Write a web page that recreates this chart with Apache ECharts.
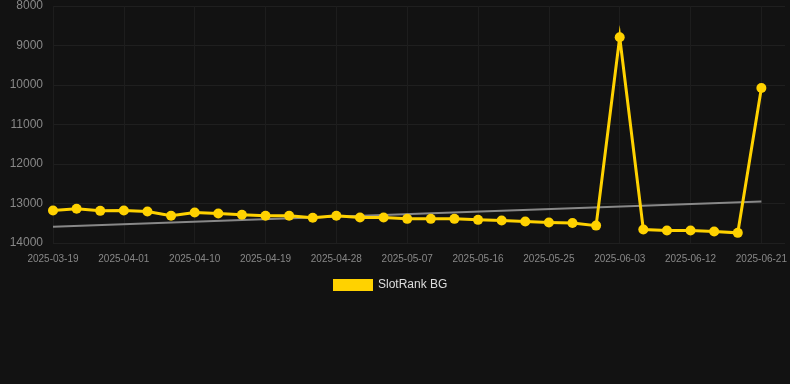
<!DOCTYPE html>
<html>
<head>
<meta charset="utf-8">
<script src="https://cdn.jsdelivr.net/npm/echarts@6/dist/echarts.min.js"></script>
<style>
  html, body { margin: 0; padding: 0; background: #121212; }
  #chart { width: 790px; height: 384px; }
</style>
</head>
<body>
<div id="chart"></div>
<script>
// dates (one point every few days)
var dates = [
  '2025-03-19', '2025-03-23', '2025-03-27', '2025-04-01', '2025-04-04', '2025-04-07',
  '2025-04-10', '2025-04-13', '2025-04-16', '2025-04-19', '2025-04-22', '2025-04-25',
  '2025-04-28', '2025-05-01', '2025-05-04', '2025-05-07', '2025-05-10', '2025-05-13',
  '2025-05-16', '2025-05-19', '2025-05-22', '2025-05-25', '2025-05-28', '2025-05-31',
  '2025-06-03', '2025-06-06', '2025-06-09', '2025-06-12', '2025-06-15', '2025-06-18',
  '2025-06-21'
]

// rank values
var rankValues = [
  13178, 13135, 13186, 13178, 13203, 13312,
  13228, 13254, 13287, 13312, 13312, 13363,
  13312, 13355, 13355, 13389, 13389, 13389,
  13414, 13431, 13456, 13480, 13495, 13560,
  8790, 13658, 13684, 13684, 13709, 13743,
  10074
]

// trend line end points [index, value]
var trendPoints = [[0, 13590], [30, 12950]]

var myChart = echarts.init(document.getElementById('chart'))

var option = {
  backgroundColor: '#121212',
  animation: false,
  grid: {
    left: 53,
    right: 5,
    top: 6,
    bottom: 141,
  },
  legend: {
    show: true,
    top: 274,
    left: 328,
    itemWidth: 40,
    itemHeight: 12,
    textStyle: {
      color: '#dddddd',
      fontSize: 12,
      fontFamily: 'Liberation Sans, Arial, sans-serif',
    },
    data: [{ name: 'SlotRank BG', icon: 'rect' }],
  },
  xAxis: {
    type: 'category',
    data: dates,
    boundaryGap: false,
    max: 31,
    axisLine: { show: false },
    axisTick: { show: false },
    axisLabel: {
      color: '#888888',
      fontSize: 10,
      margin: 11,
      interval: 2,
      fontFamily: 'Liberation Sans, Arial, sans-serif',
    },
    splitLine: {
      show: true,
      interval: 2,
      lineStyle: { color: '#1d1d1d', width: 1 },
    },
  },
  yAxis: {
    type: 'value',
    inverse: true,
    min: 8000,
    max: 14000,
    interval: 1000,
    axisLine: { show: false },
    axisTick: { show: false },
    axisLabel: {
      color: '#888888',
      fontSize: 12,
      margin: 10,
      formatter: function (v) { return String(v) },
      fontFamily: 'Liberation Sans, Arial, sans-serif',
    },
    splitLine: {
      lineStyle: { color: '#1f1f1f', width: 1 },
    },
  },
  series: [
    {
      name: 'trend',
      type: 'line',
      data: trendPoints,
      symbol: 'none',
      silent: true,
      lineStyle: { color: '#888888', width: 2 },
      z: 1,
    },
    {
      name: 'SlotRank BG',
      type: 'line',
      data: rankValues,
      symbol: 'circle',
      symbolSize: 10,
      itemStyle: { color: '#ffd200' },
      lineStyle: { color: '#ffd200', width: 3, join: 'miter' },
      z: 2,
    },
  ],
}

myChart.setOption(option)
</script>
</body>
</html>
